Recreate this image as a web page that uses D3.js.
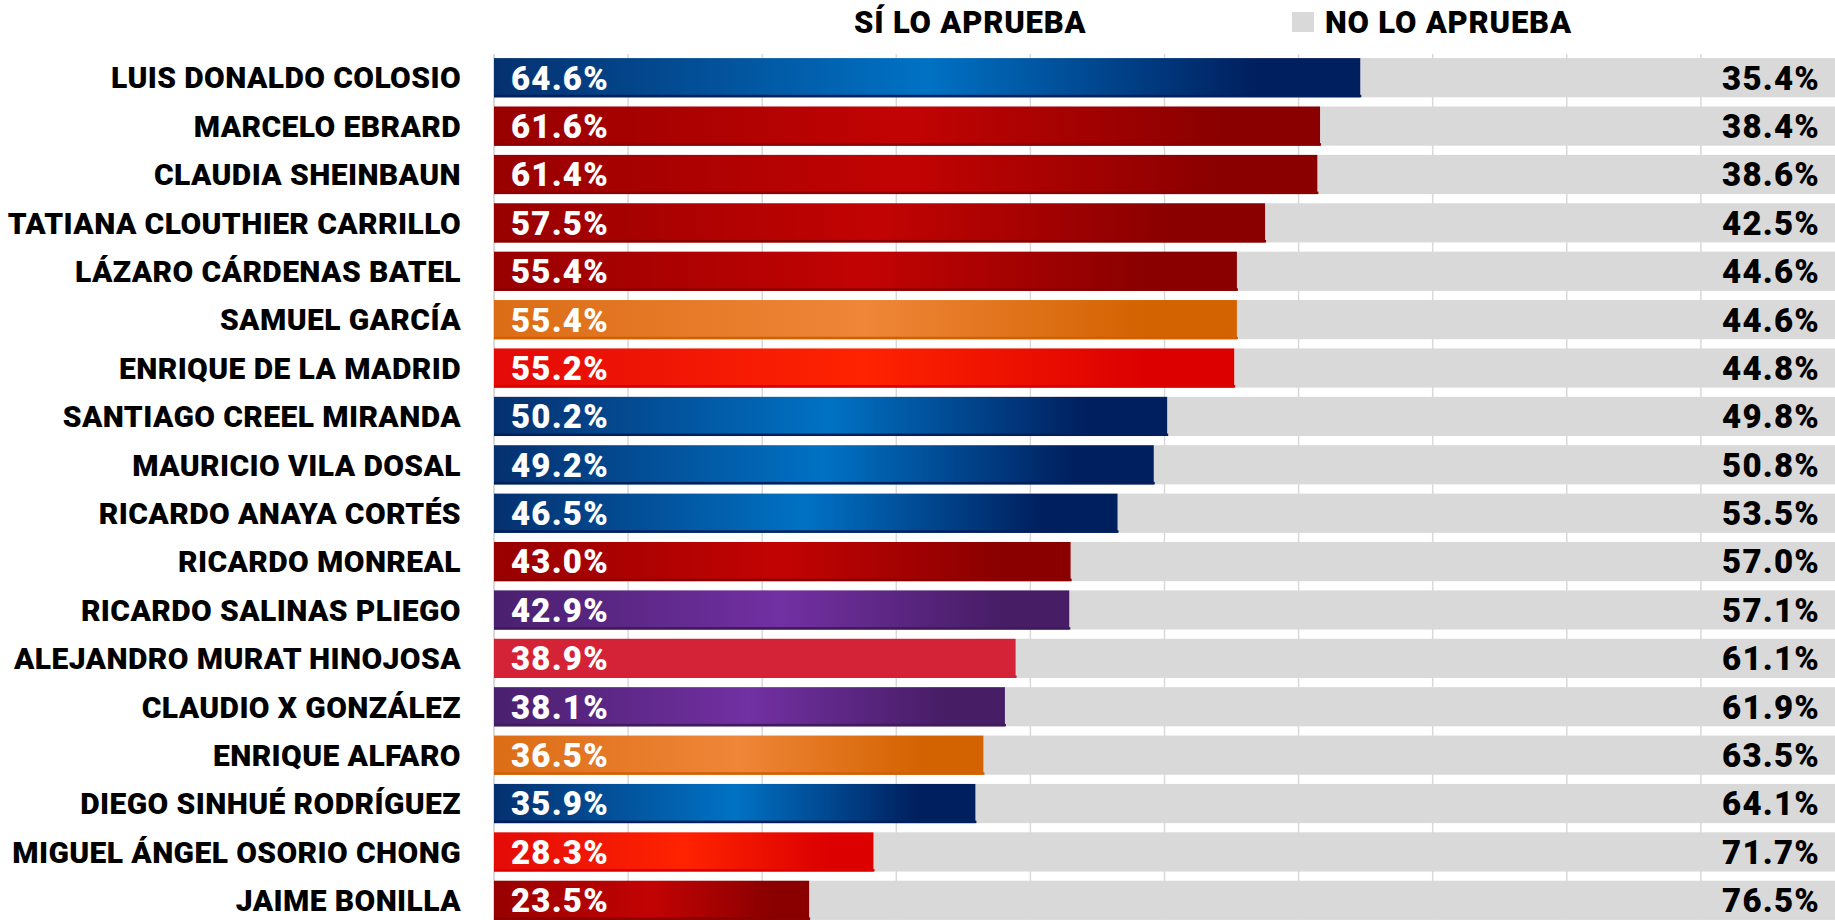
<!DOCTYPE html>
<html>
<head>
<meta charset="utf-8">
<script src="https://cdn.jsdelivr.net/npm/d3@7"></script>
<style>
  body { margin: 0; background: #fff; }
  svg { display: block; }
  text { font-family: Roboto, "Noto Sans", sans-serif; font-weight: 900; }
</style>
</head>
<body>
<div id="chart"></div>
<script>
// Data
const names = [
  'LUIS DONALDO COLOSIO', 'MARCELO EBRARD', 'CLAUDIA SHEINBAUN',
  'TATIANA CLOUTHIER CARRILLO', 'LÁZARO CÁRDENAS BATEL', 'SAMUEL GARCÍA',
  'ENRIQUE DE LA MADRID', 'SANTIAGO CREEL MIRANDA', 'MAURICIO VILA DOSAL',
  'RICARDO ANAYA CORTÉS', 'RICARDO MONREAL', 'RICARDO SALINAS PLIEGO',
  'ALEJANDRO MURAT HINOJOSA', 'CLAUDIO X GONZÁLEZ', 'ENRIQUE ALFARO',
  'DIEGO SINHUÉ RODRÍGUEZ', 'MIGUEL ÁNGEL OSORIO CHONG', 'JAIME BONILLA'
]
const siValues = [64.6, 61.6, 61.4, 57.5, 55.4, 55.4, 55.2, 50.2, 49.2, 46.5, 43.0, 42.9, 38.9, 38.1, 36.5, 35.9, 28.3, 23.5]
const noValues = [35.4, 38.4, 38.6, 42.5, 44.6, 44.6, 44.8, 49.8, 50.8, 53.5, 57.0, 57.1, 61.1, 61.9, 63.5, 64.1, 71.7, 76.5]
const parties = ['pan', 'morena', 'morena', 'morena', 'morena', 'mc', 'pri', 'pan', 'pan', 'pan',
  'morena', 'indep', 'murat', 'indep', 'mc', 'pan', 'pri', 'morena']
const ticks = [0, 10, 20, 30, 40, 50, 60, 70, 80, 90]
const legendLabels = ['SÍ LO APRUEBA', 'NO LO APRUEBA']

// party colours: left, middle, right, bottom edge
const palette = {
  pan:    ['#05306f', '#0072c4', '#001f5e', '#001f5c'],
  morena: ['#980000', '#c20303', '#8a0000', '#8a0000'],
  mc:     ['#dc6d16', '#ef8638', '#d36200', '#d06000'],
  pri:    ['#e30a08', '#ff2300', '#dc0000', '#d80000'],
  indep:  ['#4a206f', '#7230a2', '#471d66', '#3f1a5c'],
  murat:  ['#d42236', '#d42236', '#d42236', '#d42236']
}

const dataset = names.map((n, i) => ({ name: n, si: siValues[i], no: noValues[i], party: parties[i] }))

// Dimensions
const width = 1835
const height = 920

const svg = d3.select('#chart')
  .append('svg')
  .attr('width', width)
  .attr('height', height)

const defs = svg.append('defs')
Object.entries(palette).forEach(([key, c]) => {
  const g = defs.append('linearGradient')
    .attr('id', 'grad-' + key)
    .attr('x1', 0).attr('x2', 1).attr('y1', 0).attr('y2', 0)
  g.append('stop').attr('offset', '0%').attr('stop-color', c[0])
  g.append('stop').attr('offset', '50%').attr('stop-color', c[1])
  g.append('stop').attr('offset', '88%').attr('stop-color', c[2])
  g.append('stop').attr('offset', '100%').attr('stop-color', c[2])
})

// Scales
const xScale = d3.scaleLinear()
  .domain([0, 100])
  .range([494, 1835])

const yScale = d3.scaleBand()
  .domain(names)
  .range([53.5, 924.5])
  .paddingInner(0.19)
  .paddingOuter(0.095)

// Gridlines
svg.append('g')
  .selectAll('line')
  .data(ticks)
  .join('line')
  .attr('x1', d => xScale(d))
  .attr('x2', d => xScale(d))
  .attr('y1', 54)
  .attr('y2', height)
  .attr('stroke', '#d9d9d9')
  .attr('stroke-width', d => d === 0 ? 2 : 1.5)

// Grey "no" bars
svg.append('g')
  .selectAll('rect')
  .data(dataset)
  .join('rect')
  .attr('x', d => xScale(d.si))
  .attr('y', d => yScale(d.name))
  .attr('width', d => xScale(100) - xScale(d.si))
  .attr('height', yScale.bandwidth())
  .attr('fill', '#d9d9d9')

// Coloured "sí" bars
const siBars = svg.append('g')
siBars.selectAll('rect.bar')
  .data(dataset)
  .join('rect')
  .attr('class', 'bar')
  .attr('x', xScale(0))
  .attr('y', d => yScale(d.name))
  .attr('width', d => xScale(d.si) - xScale(0))
  .attr('height', yScale.bandwidth())
  .attr('fill', d => `url(#grad-${d.party})`)

siBars.selectAll('rect.edge')
  .data(dataset)
  .join('rect')
  .attr('class', 'edge')
  .attr('x', xScale(0))
  .attr('y', d => yScale(d.name) + yScale.bandwidth() - 2.5)
  .attr('width', d => xScale(d.si) - xScale(0) + 1)
  .attr('height', 2.5)
  .attr('fill', d => palette[d.party][3])

// Name labels
svg.append('g')
  .selectAll('text')
  .data(dataset)
  .join('text')
  .attr('x', 461)
  .attr('y', d => yScale(d.name) + yScale.bandwidth() / 2)
  .attr('dy', '0.36em')
  .attr('text-anchor', 'end')
  .attr('font-size', 30)
  .attr('letter-spacing', 0.4)
  .attr('fill', '#000')
  .text(d => d.name)

// Value labels inside bars
svg.append('g')
  .selectAll('text')
  .data(dataset)
  .join('text')
  .attr('x', xScale(0) + 17)
  .attr('y', d => yScale(d.name) + yScale.bandwidth() / 2)
  .attr('dy', '0.36em')
  .attr('font-size', 33)
  .attr('letter-spacing', 1.2)
  .attr('fill', '#fff')
  .text(d => d.si.toFixed(1) + '%')

// Value labels on the right
svg.append('g')
  .selectAll('text')
  .data(dataset)
  .join('text')
  .attr('x', 1820)
  .attr('y', d => yScale(d.name) + yScale.bandwidth() / 2)
  .attr('dy', '0.36em')
  .attr('text-anchor', 'end')
  .attr('font-size', 33)
  .attr('letter-spacing', 1.2)
  .attr('fill', '#000')
  .text(d => d.no.toFixed(1) + '%')

// Legend
const legend = svg.append('g')
legend.append('text')
  .attr('x', 854)
  .attr('y', 33)
  .attr('font-size', 31)
  .attr('letter-spacing', 0.8)
  .attr('fill', '#000')
  .text(legendLabels[0])

legend.append('rect')
  .attr('x', 1292)
  .attr('y', 12)
  .attr('width', 22)
  .attr('height', 20)
  .attr('fill', '#d9d9d9')

legend.append('text')
  .attr('x', 1325)
  .attr('y', 33)
  .attr('font-size', 31)
  .attr('letter-spacing', 0.8)
  .attr('fill', '#000')
  .text(legendLabels[1])
</script>
</body>
</html>
